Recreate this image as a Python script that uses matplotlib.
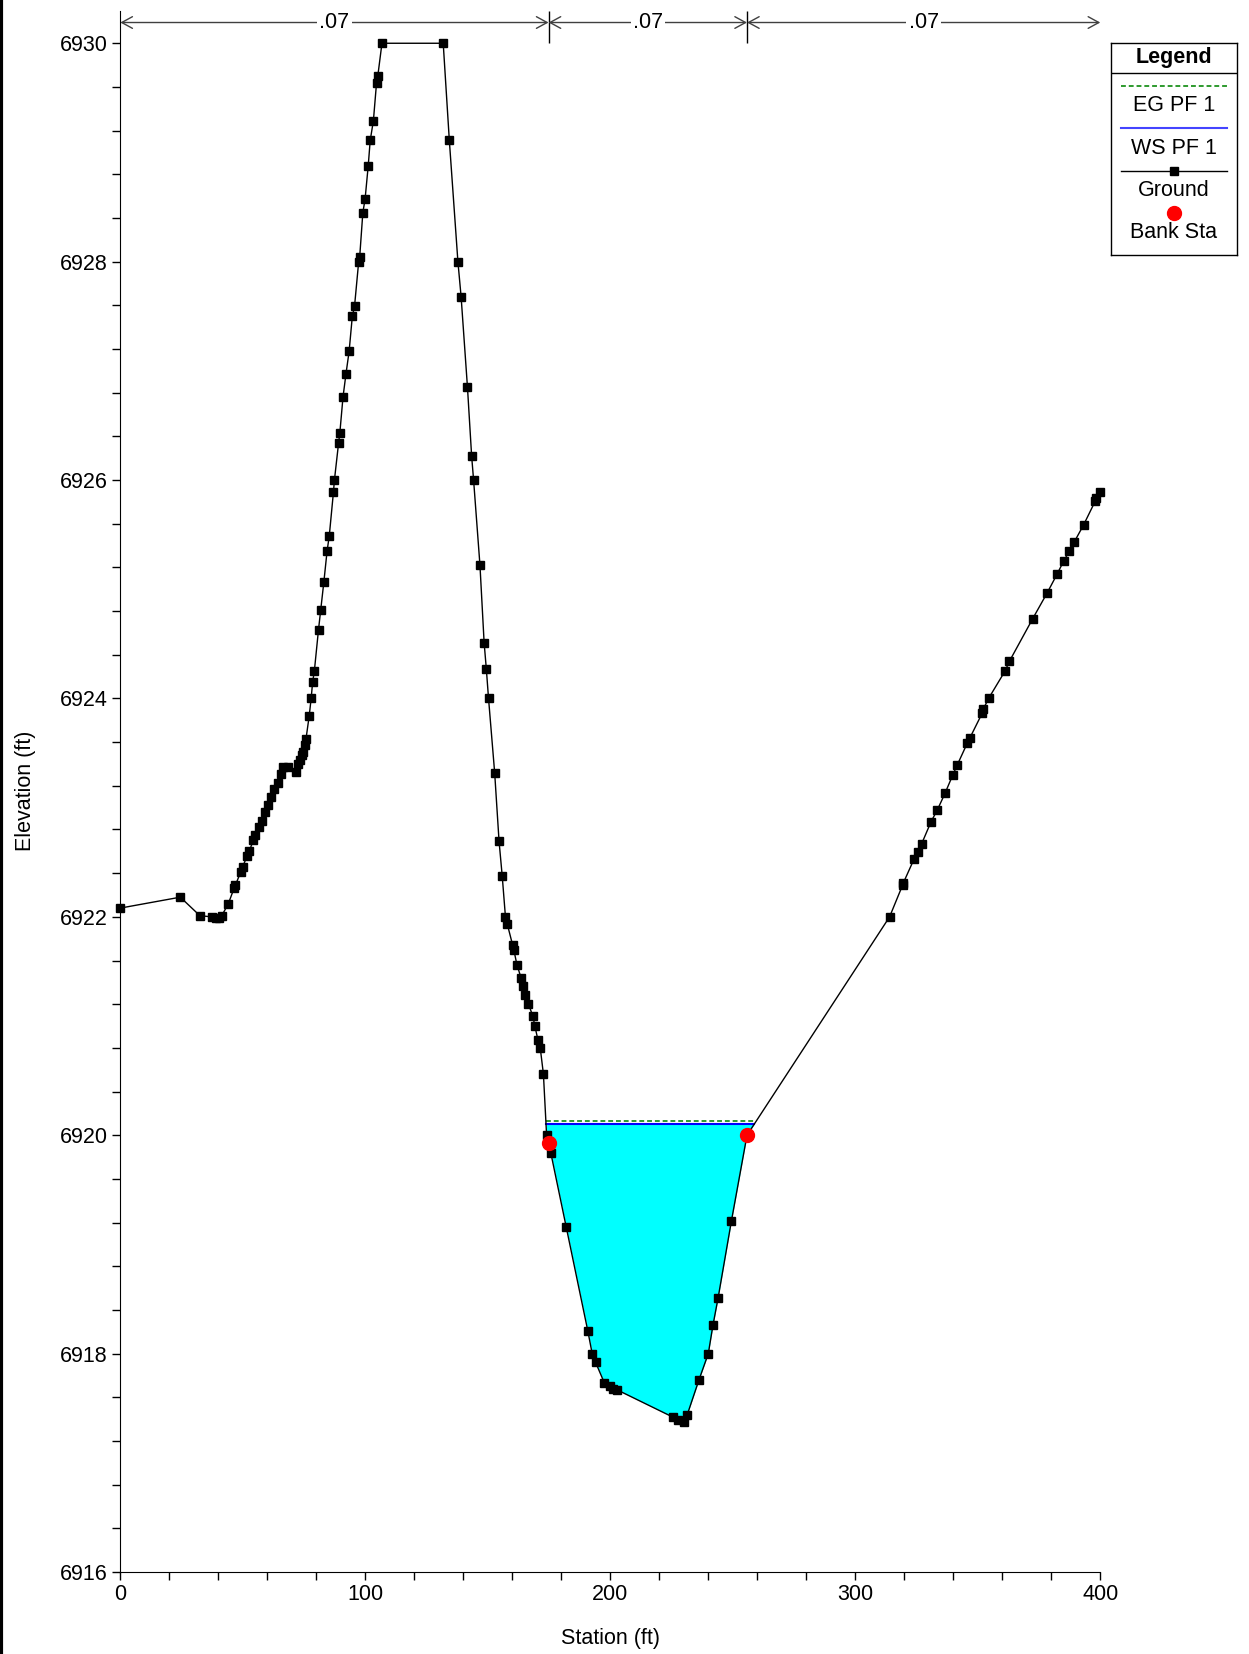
import numpy as np
import matplotlib
matplotlib.use('Agg')
import matplotlib.pyplot as plt
from matplotlib.lines import Line2D

plt.rcParams['font.family'] = ['Liberation Sans', 'DejaVu Sans']

# ground profile (station ft, elevation ft)
station = [0, 24.5, 32.5, 37.3, 39.0, 40.3, 41.4, 44.1, 46.4, 47.0, 49.1, 50.0,
           51.8, 52.6, 54.3, 55.1, 56.8, 57.7, 59.2, 60.3, 61.5, 62.9, 64.2, 65.4,
           66.3, 68.6, 71.9, 72.7, 73.3, 74.0, 74.6, 75.3, 75.8, 77.1, 77.9, 78.5,
           79.2, 80.9, 81.8, 83.1, 84.4, 85.3, 87.0, 87.4, 89.1, 89.6, 90.9, 92.1,
           93.4, 94.7, 95.6, 97.3, 97.7, 99.0, 99.9, 101.2, 102.0, 103.3, 104.6,
           105.1, 106.8, 131.8, 134.3, 137.8, 139.1, 141.7, 143.4, 144.2, 146.8,
           148.5, 149.4, 150.3, 152.8, 154.6, 155.9, 157.2, 158.0, 160.2, 160.6,
           161.9, 163.6, 164.4, 165.3, 166.6, 168.4, 169.2, 170.5, 171.4, 172.7,
           174.0, 175.7, 182.0, 190.8, 192.6, 194.0, 197.6, 199.9, 201.2, 202.6,
           225.4, 227.8, 230.1, 231.4, 236.2, 240.0, 241.9, 244.0, 249.4, 255.8,
           314.0, 319.3, 319.6, 324.0, 325.5, 327.1, 330.9, 333.5, 336.6, 339.8,
           341.6, 345.7, 346.8, 351.9, 352.2, 354.4, 361.1, 362.9, 372.4, 378.4,
           382.4, 385.1, 387.4, 389.3, 393.2, 398.0, 398.4, 400.0]
elevation = [6922.08, 6922.18, 6922.01, 6922.00, 6921.99, 6921.99, 6922.01, 6922.12,
             6922.26, 6922.29, 6922.41, 6922.46, 6922.56, 6922.60, 6922.70, 6922.75,
             6922.82, 6922.88, 6922.96, 6923.02, 6923.10, 6923.17, 6923.23, 6923.31,
             6923.37, 6923.37, 6923.33, 6923.40, 6923.44, 6923.48, 6923.51, 6923.57,
             6923.63, 6923.84, 6924.00, 6924.15, 6924.25, 6924.63, 6924.81, 6925.07,
             6925.35, 6925.49, 6925.89, 6926.00, 6926.34, 6926.43, 6926.76, 6926.97,
             6927.18, 6927.50, 6927.59, 6928.00, 6928.04, 6928.45, 6928.57, 6928.88,
             6929.11, 6929.29, 6929.64, 6929.70, 6930.00, 6930.00, 6929.11, 6928.00,
             6927.68, 6926.85, 6926.22, 6926.00, 6925.22, 6924.51, 6924.27, 6924.00,
             6923.32, 6922.69, 6922.37, 6922.00, 6921.93, 6921.74, 6921.70, 6921.56,
             6921.44, 6921.37, 6921.28, 6921.20, 6921.09, 6921.00, 6920.87, 6920.80,
             6920.56, 6920.00, 6919.84, 6919.16, 6918.21, 6918.00, 6917.92, 6917.73,
             6917.70, 6917.68, 6917.67, 6917.42, 6917.39, 6917.37, 6917.44, 6917.76,
             6918.00, 6918.26, 6918.51, 6919.21, 6920.00, 6922.00, 6922.29, 6922.31,
             6922.53, 6922.59, 6922.67, 6922.87, 6922.98, 6923.13, 6923.30, 6923.39,
             6923.59, 6923.64, 6923.87, 6923.90, 6924.00, 6924.25, 6924.34, 6924.73,
             6924.97, 6925.14, 6925.26, 6925.35, 6925.43, 6925.59, 6925.81, 6925.84,
             6925.89]

bank_sta = [174.8, 255.8]
bank_elev = [6919.93, 6920.00]
ws_pf1 = 6920.10
eg_pf1 = 6920.13
mann_n = [0.07, 0.07, 0.07]


def crossings(sta, elev, level):
    # stations where the channel banks cross a water level
    imin = int(np.argmin(elev))
    i = imin
    while elev[i - 1] < level:
        i -= 1
    left = np.interp(level, [elev[i], elev[i - 1]], [sta[i], sta[i - 1]])
    j = imin
    while elev[j + 1] < level:
        j += 1
    right = np.interp(level, [elev[j], elev[j + 1]], [sta[j], sta[j + 1]])
    return left, right


sta = np.array(station)
elev = np.array(elevation)

fig = plt.figure(figsize=(12.49, 16.54), dpi=100)
ax = fig.add_axes([120.3 / 1249, 82 / 1654, 980 / 1249, 1561.5 / 1654])
ytop = 6930.30
ax.set_xlim(0, 400)
ax.set_ylim(6916, ytop)

wl, wr = crossings(sta, elev, ws_pf1)
el, er = crossings(sta, elev, eg_pf1)
inside = (sta > wl - 5) & (sta < wr + 5)
ax.fill_between(sta, elev, ws_pf1, where=inside & (elev <= ws_pf1),
                interpolate=True, color='#00ffff', lw=0, zorder=1)
ax.plot([el, er], [eg_pf1, eg_pf1], color='#2e9a2e', lw=1.4,
        ls=(0, (2.5, 1.5)), zorder=2)
ax.plot([wl, wr], [ws_pf1, ws_pf1], color='blue', lw=1.5, zorder=2)
ax.plot(sta, elev, color='black', lw=1, marker='s', ms=5.5, zorder=3,
        clip_on=False)
ax.plot(bank_sta, bank_elev, ls='none', marker='o', ms=10, color='red',
        zorder=4)

# manning's n strip on top
ax.vlines(bank_sta, 6930, ytop, color='black', lw=1, clip_on=False)
edges = [0] + bank_sta + [400]
yarr = 6930.19
for k, n in enumerate(mann_n):
    a, b = edges[k], edges[k + 1]
    ax.annotate('', xy=(b, yarr), xytext=(a, yarr),
                arrowprops=dict(arrowstyle='<->,head_length=0.55,head_width=0.3',
                                color='#404040', lw=1, shrinkA=0, shrinkB=0,
                                mutation_scale=14))
    ax.text((a + b) / 2, yarr, ('%.2f' % n).lstrip('0'), ha='center',
            va='center', fontsize=15.5,
            bbox=dict(facecolor='white', edgecolor='none', pad=1.5))

ax.spines['top'].set_visible(False)
ax.spines['right'].set_visible(False)
ax.xaxis.set_major_locator(plt.MultipleLocator(100))
ax.xaxis.set_minor_locator(plt.MultipleLocator(20))
ax.yaxis.set_major_locator(plt.MultipleLocator(2))
ax.yaxis.set_minor_locator(plt.MultipleLocator(0.4))
ax.tick_params(axis='both', which='both', direction='out', length=6, width=1,
               labelsize=15.5, pad=3)
ax.set_xlabel('Station (ft)', fontsize=15.5, labelpad=16)
ax.set_ylabel('Elevation (ft)', fontsize=15.5, labelpad=17)

# legend box
lg = fig.add_axes([1111 / 1249, 1 - 255.3 / 1654, 126 / 1249, 212.3 / 1654])
lg.set_xlim(0, 126)
lg.set_ylim(212.3, 0)
lg.set_xticks([])
lg.set_yticks([])
for s in lg.spines.values():
    s.set_linewidth(1)
lg.text(63, 15, 'Legend', ha='center', va='center', fontsize=15.5,
        fontweight='bold')
lg.axhline(30, color='black', lw=1)
lg.plot([10, 116], [42.5, 42.5], color='#2e9a2e', lw=1.4, ls=(0, (2.5, 1.5)))
lg.text(63, 62.5, 'EG PF 1', ha='center', va='center', fontsize=15.5)
lg.plot([10, 116], [84.7, 84.7], color='#4444ff', lw=1.5)
lg.text(63, 105.7, 'WS PF 1', ha='center', va='center', fontsize=15.5)
lg.plot([10, 63, 116], [128, 128, 128], color='black', lw=1, marker='s',
        ms=5.5, markevery=[1])
lg.text(63, 148, 'Ground', ha='center', va='center', fontsize=15.5)
lg.plot([63], [170], ls='none', marker='o', ms=10, color='red')
lg.text(63, 190, 'Bank Sta', ha='center', va='center', fontsize=15.5)

fig.add_artist(Line2D([0.0012, 0.0012], [0, 1], color='black', lw=3,
                      transform=fig.transFigure))

fig.savefig('out.png', dpi=100)
